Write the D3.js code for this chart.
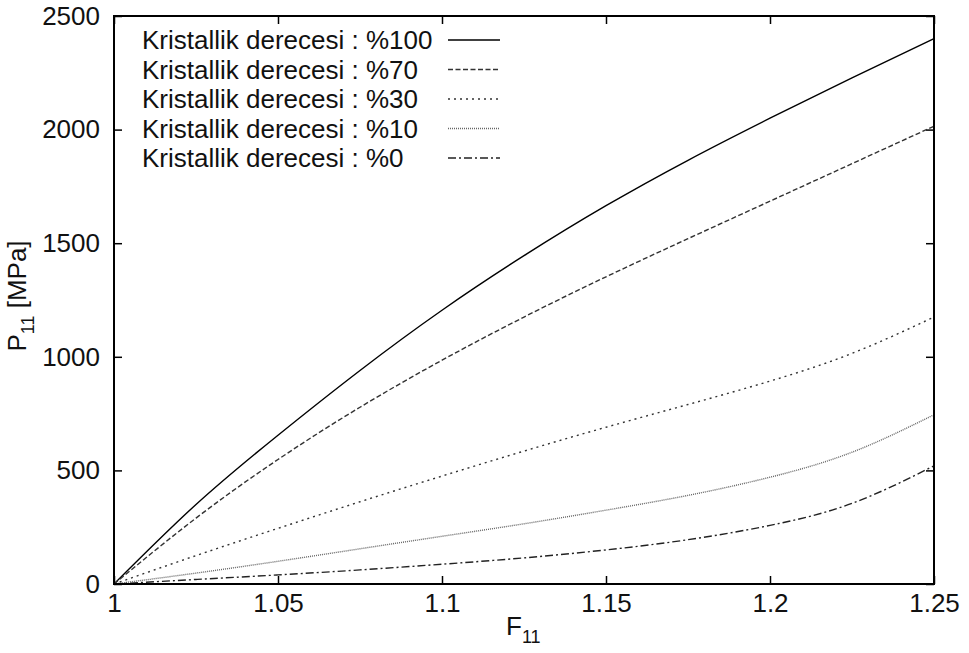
<!DOCTYPE html>
<html>
<head>
<meta charset="utf-8">
<script src="https://cdn.jsdelivr.net/npm/d3@7"></script>
<style>
    body { margin: 0; background: #fff; }
    text { font-family: "Liberation Sans", Arial, sans-serif; fill: #111; }
</style>
</head>
<body>
<div class="chart-container"></div>
<script>
// Data
const strain = [1.0, 1.025, 1.05, 1.075, 1.1, 1.125, 1.15, 1.175, 1.2, 1.225, 1.25];
const crystal100 = [0, 350, 655, 940, 1205, 1445, 1665, 1865, 2050, 2228, 2400];
const crystal70 = [0, 290, 548, 778, 985, 1175, 1352, 1520, 1685, 1850, 2015];
const crystal30 = [0, 125, 245, 362, 475, 585, 690, 790, 893, 1015, 1175];
const crystal10 = [0, 48, 100, 155, 210, 265, 325, 390, 470, 580, 745];
const crystal0 = [0, 20, 40, 62, 87, 115, 150, 195, 258, 355, 520];
const seriesNames = ['Kristallik derecesi : %100', 'Kristallik derecesi : %70',
    'Kristallik derecesi : %30', 'Kristallik derecesi : %10', 'Kristallik derecesi : %0'];
const xTicks = [1, 1.05, 1.1, 1.15, 1.2, 1.25];
const xTickLabels = ['1', '1.05', '1.1', '1.15', '1.2', '1.25'];
const yTicks = [0, 500, 1000, 1500, 2000, 2500];

const series = [crystal100, crystal70, crystal30, crystal10, crystal0].map((vals, i) => ({
    name: seriesNames[i],
    values: vals.map((v, j) => ({x: strain[j], y: v}))
}));

// line styles, gnuplot-ish
const styles = [
    {color: '#000', dash: null},
    {color: '#333', dash: '5,2.5'},
    {color: '#333', dash: '2,4'},
    {color: '#666', dash: '1,1'},
    {color: '#222', dash: '8,3,2,3'}
];

// Margin convention
const W = 969, H = 653;
const margin = {top: 16, right: 35, bottom: 69, left: 114};
const width = W - margin.left - margin.right;
const height = H - margin.top - margin.bottom;

const xScale = d3.scaleLinear().domain([1, 1.25]).range([0, width]);
const yScale = d3.scaleLinear().domain([0, 2500]).range([height, 0]);

const svg = d3.select('.chart-container')
    .append('svg')
    .attr('width', W)
    .attr('height', H)
    .append('g')
    .attr('transform', `translate(${margin.left}, ${margin.top})`);

// Axes (ticks pointing inward, mirrored)
const fontSize = 26;
const xAxis = d3.axisBottom(xScale)
    .tickValues(xTicks)
    .tickFormat((d, i) => xTickLabels[i])
    .tickSizeInner(-8).tickSizeOuter(0).tickPadding(10);
const yAxis = d3.axisLeft(yScale)
    .tickValues(yTicks)
    .tickFormat(d3.format('d'))
    .tickSizeInner(-8).tickSizeOuter(0).tickPadding(14);

svg.append('g')
    .attr('class', 'x axis')
    .attr('transform', `translate(0, ${height})`)
    .call(xAxis);
svg.append('g')
    .attr('class', 'y axis')
    .call(yAxis);

svg.append('g')
    .call(d3.axisTop(xScale).tickValues(xTicks).tickFormat('').tickSizeInner(-8).tickSizeOuter(0));
svg.append('g')
    .attr('transform', `translate(${width}, 0)`)
    .call(d3.axisRight(yScale).tickValues(yTicks).tickFormat('').tickSizeInner(-8).tickSizeOuter(0));

svg.selectAll('.domain').remove();
svg.selectAll('.tick line').attr('stroke', '#000').attr('stroke-width', 1.5);
svg.selectAll('.axis text')
    .style('font-size', fontSize + 'px')
    .style('font-family', '"Liberation Sans", Arial, sans-serif')
    .attr('fill', '#111');

// Curves
const line = d3.line()
    .x(d => xScale(d.x))
    .y(d => yScale(d.y))
    .curve(d3.curveNatural);

svg.selectAll('.curve')
    .data(series)
    .enter()
    .append('path')
    .attr('class', 'curve')
    .attr('d', d => line(d.values))
    .attr('fill', 'none')
    .attr('stroke', (d, i) => styles[i].color)
    .attr('stroke-width', 1.4)
    .attr('stroke-dasharray', (d, i) => styles[i].dash);

// Frame
svg.append('rect')
    .attr('width', width)
    .attr('height', height)
    .attr('fill', 'none')
    .attr('stroke', '#000')
    .attr('stroke-width', 2);

// Legend
const legend = svg.append('g')
    .attr('class', 'legend')
    .attr('transform', 'translate(28, 24)');

const rows = legend.selectAll('.row')
    .data(series)
    .enter()
    .append('g')
    .attr('transform', (d, i) => `translate(0, ${i * 29.5})`);

rows.append('text')
    .text(d => d.name)
    .attr('dy', '0.35em')
    .style('font-size', fontSize + 'px');

rows.append('line')
    .attr('x1', 306).attr('x2', 358)
    .attr('stroke', (d, i) => styles[i].color)
    .attr('stroke-width', 1.4)
    .attr('stroke-dasharray', (d, i) => styles[i].dash);

// Axis titles
const xTitle = svg.append('text')
    .attr('x', width / 2 - 18)
    .attr('y', height + 51)
    .style('font-size', fontSize + 'px');
xTitle.append('tspan').text('F');
xTitle.append('tspan').text('11').attr('dy', 8).style('font-size', '18px');

const yTitle = svg.append('text')
    .attr('transform', `translate(-88, ${height / 2 - 4}) rotate(-90)`)
    .attr('text-anchor', 'middle')
    .style('font-size', fontSize + 'px');
yTitle.append('tspan').text('P');
yTitle.append('tspan').text('11').attr('dy', 8).style('font-size', '18px');
yTitle.append('tspan').text(' [MPa]').attr('dy', -8);
</script>
</body>
</html>
